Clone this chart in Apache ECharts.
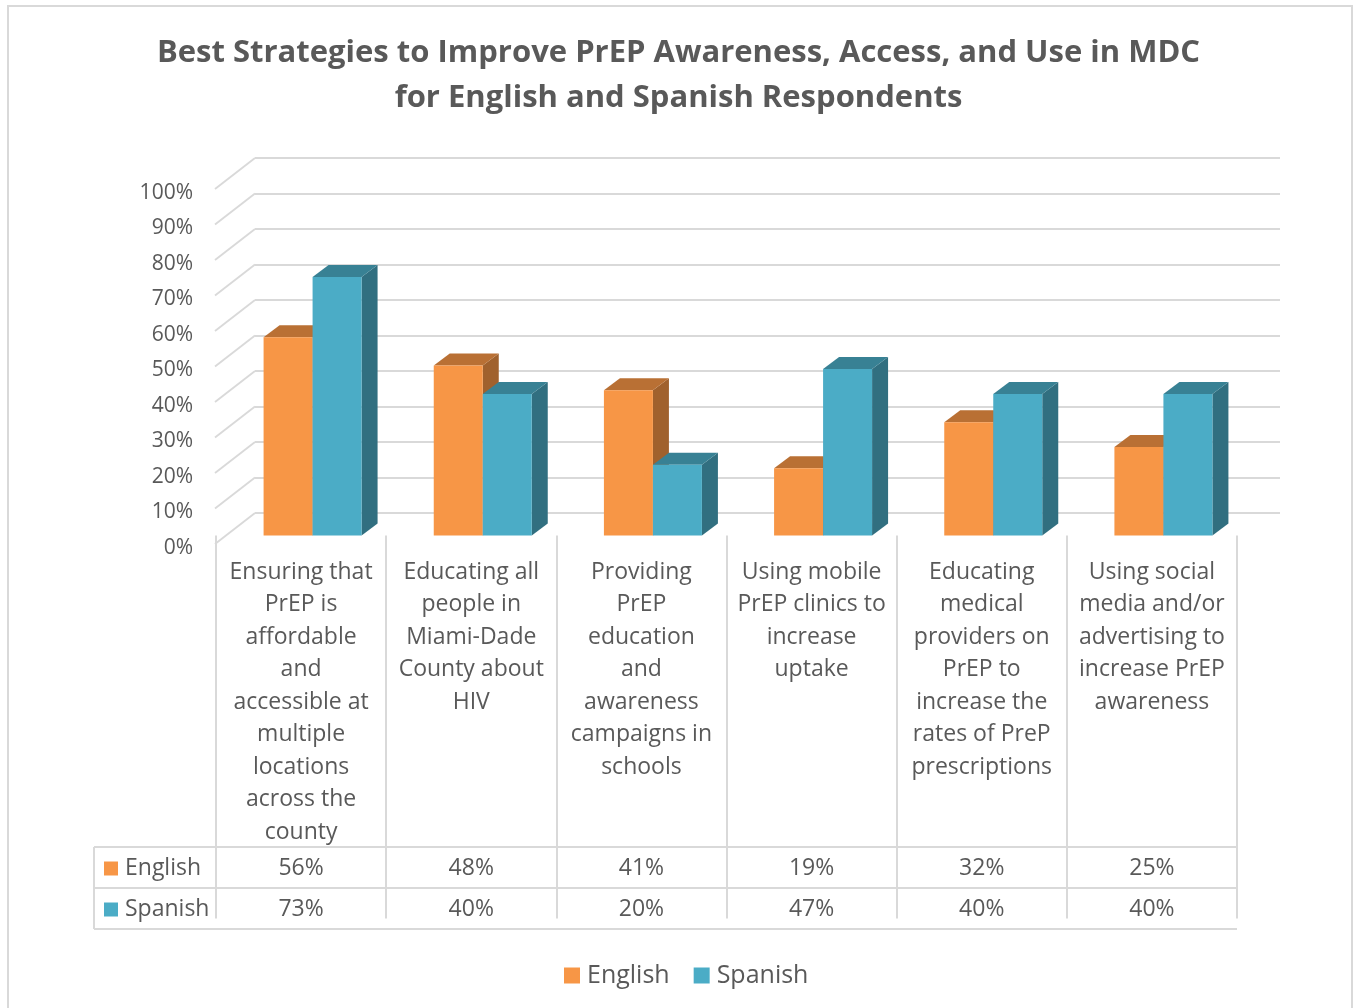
<!DOCTYPE html>
<html><head><meta charset="utf-8">
<script src="https://cdn.jsdelivr.net/npm/echarts@6/dist/echarts.min.js"></script>
<style>html,body{margin:0;padding:0;background:#fff}#c{width:1357px;height:1008px}</style>
</head><body><div id="c"></div>
<script>
// ---- data ----
const categories = [
  'Ensuring that\nPrEP is\naffordable\nand\naccessible at\nmultiple\nlocations\nacross the\ncounty',
  'Educating all\npeople in\nMiami-Dade\nCounty about\nHIV',
  'Providing\nPrEP\neducation\nand\nawareness\ncampaigns in\nschools',
  'Using mobile\nPrEP clinics to\nincrease\nuptake',
  'Educating\nmedical\nproviders on\nPrEP to\nincrease the\nrates of PreP\nprescriptions',
  'Using social\nmedia and/or\nadvertising to\nincrease PrEP\nawareness'
];
const english = [56, 48, 41, 19, 32, 25];
const spanish = [73, 40, 20, 47, 40, 40];
const yTicks = [0, 10, 20, 30, 40, 50, 60, 70, 80, 90, 100];
const seriesNames = ['English', 'Spanish'];
const titleText = 'Best Strategies to Improve PrEP Awareness, Access, and Use in MDC\nfor English and Spanish Respondents';

// ---- styles ----
const FONT = '"Open Sans", "Noto Sans", sans-serif';
const TXT = '#595959';
const GRID_C = '#d9d9d9';
const palette = [
  { front: '#F79646', top: '#B97034', side: '#A0612D' },
  { front: '#4BACC6', top: '#388194', side: '#316F80' }
];
const BAR_W = 49, PAIR_OFF = 11.5, DX = 16, DY = 12, DIAG_DY = 31;

function barRender(s) {
  return function (params, api) {
    const i = api.value(0), v = api.value(1);
    const b = api.coord([i, 0]);
    const t = api.coord([i, v]);
    const cx = b[0] + PAIR_OFF;
    const x0 = s === 0 ? cx - BAR_W : cx;
    const x1 = x0 + BAR_W;
    const yb = b[1], yt = t[1];
    const c = palette[s];
    return {
      type: 'group', children: [
        { type: 'polygon', shape: { points: [[x1, yt], [x1 + DX, yt - DY], [x1 + DX, yb - DY], [x1, yb]] }, style: { fill: c.side } },
        { type: 'polygon', shape: { points: [[x0, yt], [x1, yt], [x1 + DX, yt - DY], [x0 + DX, yt - DY]] }, style: { fill: c.top } },
        { type: 'rect', shape: { x: x0, y: yt, width: BAR_W, height: yb - yt }, style: { fill: c.front } }
      ]
    };
  };
}

const ROW_TOP = 847, ROW_MID = 888, ROW_BOT = 929, TABLE_LEFT = 94;
function tableRender(params, api) {
  const i = api.value(0);
  const x = api.coord([i, 0])[0];
  const band = api.size([1, 0])[0];
  const children = [
    { type: 'text', style: { text: api.value(1) + '%', x: x, y: (ROW_TOP + ROW_MID) / 2 + 1, textAlign: 'center', textVerticalAlign: 'middle', fill: TXT, font: '23px ' + FONT } },
    { type: 'text', style: { text: api.value(2) + '%', x: x, y: (ROW_MID + ROW_BOT) / 2 + 1, textAlign: 'center', textVerticalAlign: 'middle', fill: TXT, font: '23px ' + FONT } }
  ];
  if (i === 0) {
    const right = api.coord([categories.length - 1, 0])[0] + band / 2;
    const ls = { stroke: GRID_C, lineWidth: 2 };
    [ROW_TOP, ROW_MID, ROW_BOT].forEach(y => children.push({ type: 'line', shape: { x1: TABLE_LEFT, y1: y, x2: right, y2: y }, style: ls }));
    children.push({ type: 'line', shape: { x1: TABLE_LEFT, y1: ROW_TOP, x2: TABLE_LEFT, y2: ROW_BOT }, style: ls });
    [ROW_TOP, ROW_MID].forEach((y, k) => {
      const cy = y + (ROW_MID - ROW_TOP) / 2;
      children.push({ type: 'rect', shape: { x: 104, y: cy - 6, width: 14, height: 14 }, style: { fill: palette[k].front } });
      children.push({ type: 'text', style: { text: seriesNames[k], x: 125, y: cy + 1, textAlign: 'left', textVerticalAlign: 'middle', fill: TXT, font: '23px ' + FONT } });
    });
  }
  return { type: 'group', children: children };
}

function diagRender(params, api) {
  const v = api.value(1);
  const p0 = api.coord([0, v]);
  const p1 = api.coord([1, v]);
  return { type: 'line', shape: { x1: p0[0], y1: p0[1], x2: p1[0], y2: p1[1] - DIAG_DY }, style: { stroke: GRID_C, lineWidth: 1.8 } };
}

const chart = echarts.init(document.getElementById('c'));
chart.setOption({
  animation: false,
  backgroundColor: '#fff',
  textStyle: { fontFamily: FONT },
  title: {
    text: titleText, left: 'center', top: 26,
    textStyle: { fontFamily: FONT, fontWeight: 'bold', fontSize: 31, lineHeight: 45, color: TXT }
  },
  graphic: [{ type: 'rect', shape: { x: 8, y: 6, width: 1344, height: 1010 }, style: { fill: 'none', stroke: GRID_C, lineWidth: 2 }, silent: true }],
  legend: {
    data: seriesNames, left: 559, top: 958, icon: 'rect', itemWidth: 16, itemHeight: 16, itemGap: 24,
    textStyle: { fontSize: 25, color: TXT, fontFamily: FONT, padding: [0, 0, 0, 2] }
  },
  grid: [
    { left: 255, right: 77, top: 158, height: 355 },
    { left: 215, width: 40, top: 189, height: 355 },
    { left: 216, right: 120, top: 181.5, height: 354 },
    { left: 215, width: 40, top: 193, height: 355 }
  ],
  xAxis: [
    { gridIndex: 0, type: 'value', min: 0, max: 1, show: false },
    { gridIndex: 1, type: 'value', min: 0, max: 1, show: false },
    {
      gridIndex: 2, type: 'category', data: categories, boundaryGap: true, offset: 10.5,
      axisLine: { show: false },
      axisTick: { show: true, length: 383, inside: false, lineStyle: { color: GRID_C, width: 2 } },
      axisLabel: { interval: 0, margin: 10, fontSize: 23, lineHeight: 32.5, color: TXT, fontFamily: FONT }
    },
    { gridIndex: 3, type: 'value', min: 0, max: 1, show: false }
  ],
  yAxis: [
    {
      gridIndex: 0, type: 'value', min: 0, max: 100, interval: 10,
      axisLabel: { show: false }, axisLine: { show: false }, axisTick: { show: false },
      splitLine: { show: true, lineStyle: { color: GRID_C, width: 1.8 } }
    },
    {
      gridIndex: 1, type: 'value', min: 0, max: 100, interval: 10,
      axisLabel: { show: false }, axisLine: { show: false }, axisTick: { show: false }, splitLine: { show: false }
    },
    { gridIndex: 2, type: 'value', min: 0, max: 100, show: false },
    {
      gridIndex: 3, type: 'value', min: 0, max: 100, interval: 10,
      axisLabel: { formatter: '{value}%', fontSize: 21, color: TXT, margin: 22, fontFamily: FONT },
      axisLine: { show: false }, axisTick: { show: false }, splitLine: { show: false }
    }
  ],
  series: [
    { type: 'custom', name: 'diag', xAxisIndex: 1, yAxisIndex: 1, data: yTicks.map(v => [0, v]), renderItem: diagRender, silent: true, z: 1 },
    { type: 'custom', name: seriesNames[0], xAxisIndex: 2, yAxisIndex: 2, itemStyle: { color: palette[0].front }, data: english.map((v, i) => [i, v]), renderItem: barRender(0), z: 3 },
    { type: 'custom', name: seriesNames[1], xAxisIndex: 2, yAxisIndex: 2, itemStyle: { color: palette[1].front }, data: spanish.map((v, i) => [i, v]), renderItem: barRender(1), z: 4 },
    { type: 'custom', name: 'table', xAxisIndex: 2, yAxisIndex: 2, data: english.map((v, i) => [i, v, spanish[i]]), renderItem: tableRender, silent: true, z: 5 }
  ]
});
</script></body></html>
